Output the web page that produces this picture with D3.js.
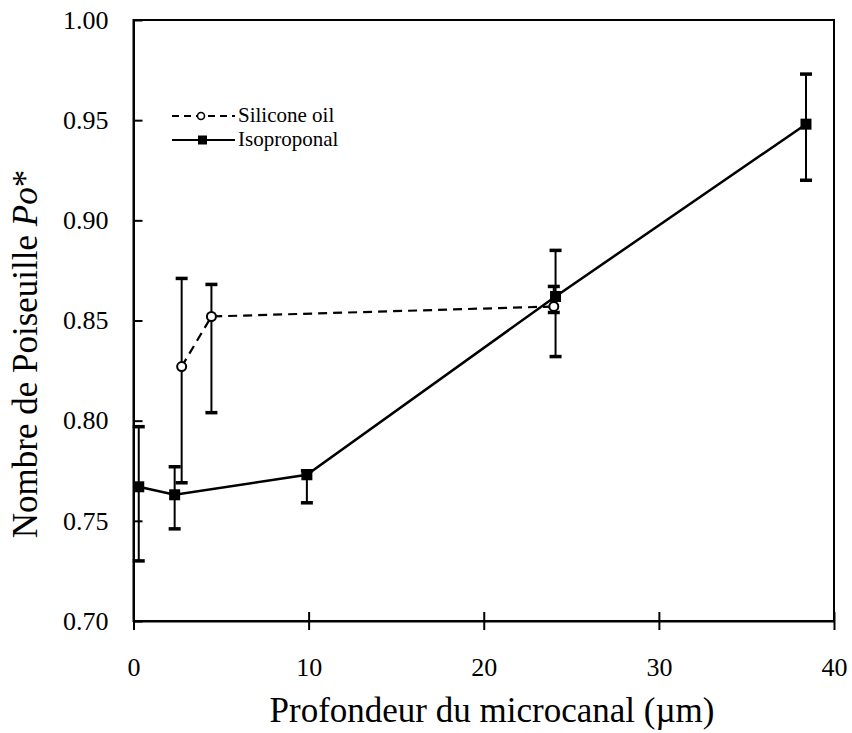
<!DOCTYPE html>
<html><head><meta charset="utf-8">
<script src="https://cdn.jsdelivr.net/npm/d3@7"></script>
<style>html,body{margin:0;padding:0;background:#fff}svg{display:block}
svg text{font-family:"Liberation Serif","DejaVu Serif",serif !important;fill:#000}</style>
</head><body>
<svg id="c" width="852" height="733"></svg>
<script>
// Data
const xTicks = [0, 10, 20, 30, 40];
const yTicks = [0.70, 0.75, 0.80, 0.85, 0.90, 0.95, 1.00];
const isoX    = [0.3, 2.35, 9.9, 24.1, 38.4];
const isoY    = [0.767, 0.763, 0.773, 0.862, 0.948];
const isoLow  = [0.730, 0.746, 0.759, 0.832, 0.920];
const isoHigh = [0.797, 0.777, 0.775, 0.885, 0.973];
const silX    = [2.75, 4.45, 24.0];
const silY    = [0.827, 0.852, 0.857];
const silLow  = [0.769, 0.804, 0.854];
const silHigh = [0.871, 0.868, 0.867];
const seriesNames = ["Silicone oil", "Isoproponal"];

const svg = d3.select("#c");
const x = d3.scaleLinear().domain([0, 40]).range([133.5, 834]);
const y = d3.scaleLinear().domain([0.70, 1.00]).range([621, 20]);

// frame
svg.append("rect").attr("x", x(0)).attr("y", y(1)).attr("width", x(40) - x(0)).attr("height", y(0.70) - y(1))
  .attr("fill", "none").attr("stroke", "#000").attr("stroke-width", 2);

// axes
const xAxis = d3.axisBottom(x).tickValues(xTicks).tickFormat(d3.format("d")).tickSizeInner(9).tickSizeOuter(0).tickPadding(28);
const gx = svg.append("g").attr("transform", `translate(0,${y(0.70)})`).call(xAxis);
gx.attr("font-family", null).attr("font-size", null);
gx.select(".domain").attr("stroke-width", 2);
gx.selectAll(".tick line").attr("y1", -9).attr("stroke-width", 2);
gx.selectAll("text").style("font-size", "26px");

const yAxis = d3.axisLeft(y).tickValues(yTicks).tickFormat(d3.format(".2f")).tickSizeInner(10).tickSizeOuter(0).tickPadding(15);
const gy = svg.append("g").attr("transform", `translate(${x(0)},0)`).call(yAxis);
gy.attr("font-family", null).attr("font-size", null);
gy.select(".domain").attr("stroke-width", 2);
gy.selectAll(".tick line").attr("x2", 9).attr("stroke-width", 2);
gy.selectAll("text").style("font-size", "26px");

// axis titles
svg.append("text").attr("x", 492).attr("y", 722).attr("text-anchor", "middle")
  .style("font-size", "35px").text("Profondeur du microcanal (\u00b5m)");
const yt = svg.append("text").attr("transform", "translate(37,354) rotate(-90)").attr("text-anchor", "middle")
  .style("font-size", "35px");
yt.append("tspan").text("Nombre de Poiseuille ");
yt.append("tspan").style("font-style", "italic").text("Po");
yt.append("tspan").text("*");

function errorBars(xs, lo, hi) {
  const g = svg.append("g");
  xs.forEach((xv, i) => {
    g.append("line").attr("x1", x(xv)).attr("x2", x(xv)).attr("y1", y(lo[i])).attr("y2", y(hi[i]))
      .attr("stroke", "#000").attr("stroke-width", 2);
    [lo[i], hi[i]].forEach(v => {
      g.append("line").attr("x1", x(xv) - 6).attr("x2", x(xv) + 6).attr("y1", y(v)).attr("y2", y(v))
        .attr("stroke", "#000").attr("stroke-width", 3.5);
    });
  });
}
errorBars(isoX, isoLow, isoHigh);
errorBars(silX, silLow, silHigh);

const line = d3.line().x(d => x(d[0])).y(d => y(d[1]));
const silPts = silX.map((v, i) => [v, silY[i]]);
const isoPts = isoX.map((v, i) => [v, isoY[i]]);

svg.append("path").attr("d", line(silPts)).attr("fill", "none").attr("stroke", "#000")
  .attr("stroke-width", 2.2).attr("stroke-dasharray", "9,6");
svg.append("path").attr("d", line(isoPts)).attr("fill", "none").attr("stroke", "#000").attr("stroke-width", 2.5);

svg.append("g").selectAll("rect").data(isoPts).join("rect")
  .attr("x", d => x(d[0]) - 5.5).attr("y", d => y(d[1]) - 5.5).attr("width", 11).attr("height", 11).attr("fill", "#000");
svg.append("g").selectAll("circle").data(silPts).join("circle")
  .attr("cx", d => x(d[0])).attr("cy", d => y(d[1])).attr("r", 4.5)
  .attr("fill", "#fff").attr("stroke", "#000").attr("stroke-width", 2);

// legend
const lg = svg.append("g");
const ly = [116, 140];
lg.append("line").attr("x1", 172).attr("x2", 235).attr("y1", ly[0]).attr("y2", ly[0])
  .attr("stroke", "#000").attr("stroke-width", 1.8).attr("stroke-dasharray", "7,5");
lg.append("circle").attr("cx", 201).attr("cy", ly[0]).attr("r", 3.5).attr("fill", "#fff").attr("stroke", "#000").attr("stroke-width", 1.6);
lg.append("line").attr("x1", 172).attr("x2", 235).attr("y1", ly[1]).attr("y2", ly[1])
  .attr("stroke", "#000").attr("stroke-width", 2);
lg.append("rect").attr("x", 198).attr("y", ly[1] - 4.5).attr("width", 9).attr("height", 9).attr("fill", "#000");
seriesNames.forEach((n, i) => {
  lg.append("text").attr("x", 238).attr("y", ly[i] + 6).style("font-size", "21px").text(n);
});
</script>
</body></html>
